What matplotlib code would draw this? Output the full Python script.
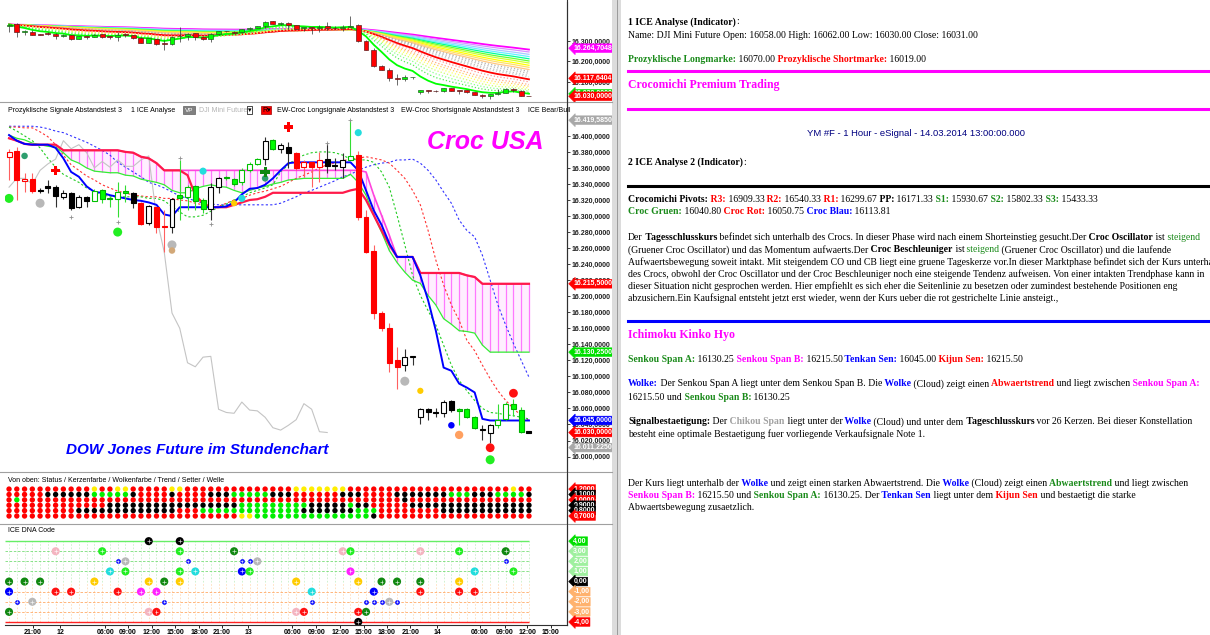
import numpy as np
import pandas as pd
import matplotlib
matplotlib.use('Agg')
import matplotlib.pyplot as plt
from matplotlib.patches import Rectangle
from matplotlib.lines import Line2D

W, H = 1210, 635
SANS = 'Liberation Sans'
SERIF = 'Liberation Serif'
plt.rcParams['font.family'] = [SANS, 'DejaVu Sans']

# hourly bars of the DJI Mini Future (YM #F)
opens = [16374, 16381, 16344, 16346, 16333, 16337, 16336, 16324, 16329, 16311,
         16324, 16319, 16332, 16322, 16321, 16331, 16329, 16316, 16291, 16311,
         16287, 16286, 16323, 16324, 16337, 16320, 16309, 16336, 16348, 16346,
         16342, 16357, 16365, 16371, 16395, 16384, 16386, 16379, 16361, 16368,
         16361, 16371, 16363, 16361, 16370, 16376, 16299, 16256, 16179, 16160,
         16120, 16114, 16124, 16049, 16059, 16056, 16054, 16069, 16058, 16059,
         16049, 16035, 16030, 16039, 16047, 16066, 16058, 16031]
highs = [16384, 16386, 16354, 16354, 16335, 16345, 16339, 16332, 16330, 16326,
         16325, 16334, 16334, 16325, 16342, 16339, 16330, 16317, 16314, 16311,
         16307, 16322, 16370, 16339, 16339, 16322, 16341, 16349, 16350, 16348,
         16360, 16367, 16372, 16399, 16396, 16391, 16392, 16380, 16370, 16368,
         16380, 16391, 16372, 16379, 16420, 16381, 16307, 16264, 16181, 16166,
         16137, 16134, 16125, 16061, 16061, 16060, 16070, 16070, 16060, 16060,
         16050, 16039, 16041, 16065, 16068, 16072, 16062, 16032]
lows = [16345, 16320, 16330, 16329, 16329, 16329, 16311, 16321, 16307, 16310,
        16311, 16319, 16316, 16311, 16299, 16317, 16310, 16289, 16289, 16279,
        16255, 16279, 16295, 16307, 16307, 16304, 16295, 16329, 16345, 16338,
        16339, 16355, 16364, 16364, 16382, 16379, 16360, 16358, 16349, 16336,
        16342, 16354, 16357, 16347, 16370, 16295, 16254, 16172, 16157, 16105,
        16084, 16107, 16114, 16041, 16046, 16049, 16049, 16056, 16039, 16048,
        16035, 16021, 16017, 16036, 16045, 16051, 16030, 16029]
closes = [16380, 16345, 16346, 16331, 16331, 16335, 16325, 16329, 16310, 16324,
          16319, 16331, 16321, 16321, 16330, 16329, 16316, 16290, 16312, 16286,
          16286, 16321, 16326, 16336, 16319, 16309, 16336, 16347, 16347, 16340,
          16357, 16365, 16371, 16394, 16384, 16389, 16379, 16360, 16368, 16361,
          16370, 16362, 16362, 16370, 16375, 16299, 16255, 16179, 16160, 16117,
          16112, 16124, 16125, 16059, 16055, 16054, 16068, 16058, 16057, 16049,
          16036, 16033, 16039, 16046, 16066, 16059, 16031, 16030]
# candle colour state: R/G/K filled, r/g/W hollow
candle_kind = "rRrRKKKWKWK" "gGGgGK" "RWRRW" "GgGGWWGG" "gggWGWK" "RrRrKKWg" "RRRRRR" "WWWKKWK" "GGGKWggGGK"

# ichimoku lines per bar
tenkan = [16401, 16394, 16390, 16389, 16389, 16389, 16385, 16372, 16355, 16349,
          16337, 16330, 16329, 16326, 16324, 16322, 16320, 16319, 16317, 16314,
          16302, 16300, 16311, 16311, 16311, 16311, 16311, 16311, 16312, 16317,
          16327, 16334, 16335, 16339, 16347, 16357, 16366, 16367, 16367, 16367,
          16367, 16367, 16367, 16367, 16367, 16357, 16332, 16307, 16289, 16266,
          16249, 16249, 16249, 16226, 16195, 16157, 16111, 16107, 16091, 16086,
          16080, 16047, 16045, 16045, 16045, 16045, 16045, 16045]
kijun = [16397, 16394, 16390, 16389, 16389, 16389, 16389, 16382, 16382, 16382,
         16382, 16382, 16382, 16382, 16382, 16380, 16379, 16374, 16372, 16366,
         16357, 16357, 16357, 16351, 16326, 16316, 16311, 16311, 16311, 16314,
         16317, 16320, 16321, 16324, 16329, 16329, 16329, 16329, 16329, 16329,
         16329, 16329, 16329, 16329, 16332, 16334, 16320, 16301, 16282, 16264,
         16249, 16249, 16249, 16229, 16229, 16229, 16229, 16229, 16229, 16226,
         16224, 16215.5, 16215.5, 16215.5, 16215.5, 16215.5, 16215.5, 16215.5]
senkou_a = [16401, 16397, 16395, 16391, 16389, 16387, 16386, 16379, 16370, 16366,
            16360, 16356, 16355, 16354, 16354, 16351, 16350, 16346, 16344, 16342,
            16339, 16332, 16329, 16329, 16334, 16337, 16339, 16337, 16336, 16332,
            16329, 16332, 16335, 16337, 16340, 16342, 16345, 16346, 16347, 16347,
            16347, 16347, 16347, 16347, 16352, 16342, 16326, 16301, 16280, 16257,
            16242, 16230, 16220, 16216, 16201, 16189, 16172, 16165, 16157, 16156,
            16154, 16139, 16130.25, 16130.25, 16130.25, 16130.25, 16130.25, 16130.25]
senkou_b = [16397, 16394, 16390, 16389, 16389, 16389, 16389, 16382, 16382, 16382,
            16382, 16382, 16382, 16382, 16382, 16380, 16379, 16374, 16372, 16366,
            16357, 16357, 16357, 16357, 16357, 16357, 16357, 16357, 16357, 16357,
            16357, 16357, 16357, 16357, 16357, 16357, 16357, 16357, 16357, 16357,
            16357, 16357, 16357, 16357, 16357, 16357, 16355, 16326, 16301, 16276,
            16249, 16249, 16249, 16229, 16229, 16229, 16229, 16229, 16229, 16226,
            16224, 16215.5, 16215.5, 16215.5, 16215.5, 16215.5, 16215.5, 16215.5]
# croc dotted lines
croc_blue = [16412, 16412, 16412, 16412, 16411, 16409, 16406, 16404, 16400, 16396,
             16392, 16387, 16382, 16376, 16367, 16361, 16355, 16349, 16342, 16339,
             16335, 16330, 16325, 16322, 16319, 16316, 16315, 16314, 16314, 16314,
             16314, 16314, 16314, 16314, 16314, 16316, 16320, 16324, 16329, 16332,
             16336, 16340, 16344, 16349, 16352, 16357, 16361, 16364, 16366, 16367,
             16370, 16370, 16371, 16366, 16357, 16345, 16330, 16316, 16295, 16282,
             16274, 16251, 16220, 16189, 16164, 16141, 16120, 16099]
croc_red = [16411, 16411, 16410, 16410, 16405, 16399, 16389, 16376, 16364, 16357,
            16350, 16345, 16339, 16335, 16331, 16329, 16326, 16325, 16324, 16324,
            16322, 16322, 16320, 16319, 16316, 16314, 16311, 16312, 16316, 16320,
            16322, 16326, 16329, 16331, 16334, 16337, 16342, 16347, 16351, 16355,
            16360, 16364, 16366, 16369, 16371, 16372, 16374, 16372, 16370, 16366,
            16357, 16347, 16332, 16314, 16282, 16245, 16214, 16189, 16170, 16145,
            16132, 16114, 16097, 16082, 16070, 16060, 16051, 16045]
croc_green = [16411, 16406, 16400, 16394, 16385, 16372, 16361, 16352, 16347, 16342,
              16335, 16331, 16327, 16324, 16324, 16324, 16324, 16324, 16322, 16322,
              16319, 16312, 16305, 16299, 16299, 16301, 16306, 16311, 16315, 16320,
              16324, 16329, 16332, 16335, 16339, 16355, 16364, 16372, 16376, 16379,
              16380, 16380, 16379, 16376, 16371, 16370, 16370, 16367, 16355, 16336,
              16301, 16264, 16226, 16201, 16182, 16164, 16139, 16114, 16095, 16082,
              16070, 16060, 16055, 16054, 16052, 16051, 16049, 16047]

# signals in the main panel
plus_bar = [6, 36, 33]
plus_price = [16357, 16411, 16355]
plus_kind = ['X', 'X', 'D']
small_plus_bar = [8, 14, 22, 26, 41, 44]
small_plus_price = [16299, 16292, 16372, 16290, 16391, 16420]
dot_bar = [0, 14, 2, 33, 4, 21, 51, 21, 58, 25, 30, 45, 29, 53, 57, 65, 62, 62]
dot_price = [16322, 16280, 16375, 16347, 16316, 16264, 16094, 16257, 16027,
             16356, 16322, 16404, 16316, 16082, 16039, 16079, 16011, 15996]
dot_kind = ['L', 'L', 'T', 'T', 'S', 'S', 'S', 'N', 'O', 'C', 'C', 'C', 'Y', 'Y', 'B', 'R', 'R', 'L']

# status rows (1.2 ... 0.7)
status_levels = [1.2, 1.1, 1.0, 0.9, 0.8, 0.7]
status_rows = [
    "RRRRRRRRRRR" "Y" "RR" "YY" "RRRRR" "YY" "RRRRRRRRRRRRRR" "YYYYYYY" "RRRRRRRRRRRRRRRRRRRRR" "Y" "RR",
    "RRRRR" "KKKKKK" "GGGGG" "K" "RRRR" "K" "RRRR" "KKK" "GGGGG" "KKK" "RRRRRR" "KKK" "RRRR" "KKKKKKK" "GGG" "KKK" "GGGG" "K",
    "RG" "RRRRRRRRRRRRRRRRRRRRRRRRRRRRRRRRRRRRRRRRRRRRRRRRR" "K" "RRRRRRRRRRRRRRRR",
    "RRRRRRRRRRRRR" "KKKKKKKKKKKKKKKKK" "GGGGGGGGG" "KKKKK" "G" "KK" "RRRRR" "KKKKKKKKKKKKKKKK",
    "RRRRRRRRR" "KKKKKKKKKKKKK" "RRR" "GGGGGGGGGGGGG" "KKKKKKK" "GGG" "RRRRRRRR" "KKKKKKKKKKKK",
    "RRRRRRRRRRRRRRRRRRRRRRRRRRRRRR" "YY" "GGGGGGGGGGGGGGG" "K" "RRRRRRRRRRRRRRRRRRRR",
]
status_tags = ['1,2000', '1,1000', '1,0000', '0,9000', '0,8000', '0,7000']
status_tag_colors = ['#ff0000', '#000000', '#ff0000', '#000000', '#000000', '#ff0000']

# ICE DNA code markers
dna_bar = [18, 22,
           6, 12, 22, 29, 43, 44, 53, 58, 64,
           14, 15, 23, 30, 31, 32, 64,
           13, 15, 22, 24, 30, 31, 44, 60, 65,
           0, 2, 4, 11, 18, 20, 22, 37, 45, 48, 50, 53, 58,
           0, 6, 8, 14, 17, 19, 39, 47, 53, 58, 60,
           1, 3, 20, 39, 46, 47, 48, 49, 50,
           0, 18, 19, 37, 38, 45, 46,
           45]
dna_level = [4, 4,
             3, 3, 3, 3, 3, 3, 3, 3, 3,
             2, 2, 2, 2, 2, 2, 2,
             1, 1, 1, 1, 1, 1, 1, 1, 1,
             0, 0, 0, 0, 0, 0, 0, 0, 0, 0, 0, 0, 0,
             -1, -1, -1, -1, -1, -1, -1, -1, -1, -1, -1,
             -2, -2, -2, -2, -2, -2, -2, -2, -2,
             -3, -3, -3, -3, -3, -3, -3,
             -4]
dna_kind = ['K', 'K',
            'P', 'L', 'L', 'D', 'P', 'L', 'P', 'L', 'D',
            'b', 'S', 'b', 'b', 'b', 'S', 'b',
            'C', 'L', 'L', 'C', 'B', 'L', 'M', 'C', 'L',
            'D', 'D', 'D', 'Y', 'Y', 'D', 'Y', 'Y', 'Y', 'D', 'D', 'D', 'Y',
            'B', 'R', 'R', 'R', 'M', 'M', 'C', 'B', 'R', 'R', 'R',
            'b', 'S', 'b', 'b', 'b', 'b', 'b', 'S', 'b',
            'D', 'P', 'R', 'P', 'R', 'R', 'D',
            'K']
dna_tags = ['4,00', '3,00', '2,00', '1,00', '0,00', '-1,00', '-2,00', '-3,00', '-4,00']
dna_tag_levels = [4, 3, 2, 1, 0, -1, -2, -3, -4]
dna_tag_colors = ['#00e000', '#9ef09e', '#9ef09e', '#9ef09e', '#000000',
                  '#ffb26e', '#ffb26e', '#ffb26e', '#ff0000']

# time axis
tick_pos = [3.1, 6.6, 12.4, 15.3, 18.4, 21.4, 24.5, 27.4, 30.8, 36.5,
            39.6, 42.7, 45.7, 48.7, 51.7, 55.2, 60.7, 63.9, 66.8, 69.8]
tick_labels = ['21:00', '12', '06:00', '09:00', '12:00', '15:00', '18:00', '21:00', '13', '06:00',
               '09:00', '12:00', '15:00', '18:00', '21:00', '14', '06:00', '09:00', '12:00', '15:00']

# right side price tags
top_tag_values = [16264.7048, 16117.6404, 16042.0, 16030.0]
top_tag_texts = ['16.264,7048', '16.117,6404', '16.030,0000', '16.030,0000']
top_tag_colors = ['#ff00ff', '#ff0000', '#00e000', '#ff0000']
main_tag_values = [16419.585, 16215.5, 16130.25, 16045.0, 16030.0, 16011.225]
main_tag_colors = ['#a8a8a8', '#ff0000', '#00e000', '#0000ff', '#ff0000', '#a8a8a8']

COLORS = {'K': '#000000', 'P': '#f4b4c0', 'L': '#22ee22', 'D': '#118811', 'b': '#1010ff',
          'S': '#b8b8b8', 'C': '#22dddd', 'B': '#0000ff', 'M': '#ff22ff', 'Y': '#ffcc00',
          'R': '#ff1111', 'G': '#00ee00', 'T': '#2e9e6e', 'N': '#d2a878', 'O': '#ffa060',
          'X': '#ff0000'}


def px(x):
    return x / W


def py(y):
    return 1 - y / H


def de_num(v, dec):
    s = f"{v:,.{dec}f}"
    return s.replace(',', '#').replace('.', ',').replace('#', '.')


fig = plt.figure(figsize=(W / 100, H / 100), dpi=100)
fig.patch.set_facecolor('white')
X_LO, X_HI = -0.52, 71.9
bars = np.arange(len(closes))


def panel(top, bottom, left=5, right=567):
    ax = fig.add_axes([px(left), py(bottom), (right - left) / W, (bottom - top) / H])
    ax.set_facecolor('white')
    ax.spines['left'].set_visible(False)
    ax.spines['bottom'].set_visible(False)
    ax.spines['top'].set_visible(False)
    ax.spines['right'].set_color('#303030')
    ax.spines['right'].set_linewidth(0.8)
    ax.yaxis.tick_right()
    ax.tick_params(axis='y', length=2, width=0.6, pad=1.5, colors='#202020')
    ax.tick_params(axis='x', bottom=False, labelbottom=False)
    ax.set_xlim(X_LO, X_HI)
    return ax


def tag(ax, val, text, color):
    ax.annotate(text, xy=(1, val), xycoords=ax.get_yaxis_transform(), xytext=(4.5, 0),
                textcoords='offset points', ha='left', va='center', fontsize=5,
                fontweight='bold', color='white', annotation_clip=False, zorder=30,
                bbox=dict(boxstyle='larrow,pad=0.12', fc=color, ec=color, lw=0.4))


def draw_candles(ax, styles, width, lw, min_h):
    o = np.array(opens, float)
    c = np.array(closes, float)
    lo = np.minimum(o, c)
    hi = np.maximum(o, c)
    ax.vlines(bars, lows, highs, colors=[s[2] for s in styles], lw=lw, zorder=5)
    ax.bar(bars, np.maximum(hi - lo, min_h), bottom=lo, width=width,
           color=[s[0] for s in styles], edgecolor=[s[1] for s in styles], lw=lw, zorder=6)


# ---------------- top panel: candles + ribbon ----------------
ax_top = panel(2, 101)
ax_top.set_ylim(16007, 16490)
ribbon = [(100, '#ff00ff', '-'), (88, '#d890ff', '-'), (78, '#a8c8ff', '-'), (70, '#66eeff', '-'),
          (63, '#00ff99', '-'), (57, '#66ff33', '-'), (52, '#ccff33', '-'), (47, '#ffff00', '-'),
          (43, '#ffe066', '-'), (39, '#ffc880', '-'),
          (36, '#b0b0b0', ':'), (33, '#b8b8b8', ':'), (30, '#c0c0c0', ':'), (28, '#c8c8c8', ':'),
          (25, '#ff0000', '-'),
          (22, '#ff9090', ':'), (19, '#ffaa80', ':'), (17, '#ffd060', ':'), (15, '#ffff60', ':'),
          (13, '#ccff66', ':'), (11, '#88ff88', ':'), (9, '#55ee55', ':'),
          (6, '#00ff00', '-')]
close_s = pd.Series(closes, dtype=float)
for span, col, ls in ribbon:
    lw = 1.3 if span in (25, 6, 100) else 0.9
    ax_top.plot(bars, close_s.ewm(span=span, adjust=False).mean(), color=col, ls=ls, lw=lw, zorder=2)
top_styles = [('#00ff00', '#206020', '#303030') if c >= o else ('#ff0000', '#602020', '#303030')
              for o, c in zip(opens, closes)]
draw_candles(ax_top, top_styles, 0.64, 0.5, 2.5)
top_ticks = [16100, 16200, 16300]
ax_top.set_yticks(top_ticks, [de_num(t, 4) for t in top_ticks], fontsize=5, fontweight='bold')
for v, txt, col in zip(top_tag_values, top_tag_texts, top_tag_colors):
    tag(ax_top, v, txt, col)

# ---------------- main panel ----------------
ax = panel(103, 471)
ax.set_ylim(15982, 16441)
a = np.array(senkou_a)
b = np.array(senkou_b)
cloud = b > a
ax.fill_between(bars, a, b, where=cloud, color='#ffeeff', lw=0, zorder=0)
ax.vlines(bars[cloud], a[cloud], b[cloud], colors='#ff77ff', lw=0.9, zorder=1)
ax.plot(bars, croc_blue, color='#3333ff', lw=0.8, ls=(0, (2, 2)), zorder=2)
ax.plot(bars, croc_red, color='#ff3333', lw=0.8, ls=(0, (2, 2)), zorder=2)
ax.plot(bars, croc_green, color='#22cc22', lw=0.8, ls=(0, (2, 2)), zorder=2)
shift = 26
ax.plot(bars[:len(closes) - shift], closes[shift:], color='#c4c4c4', lw=0.8, zorder=2)
ax.plot(bars, senkou_a, color='#33ee33', lw=0.9, zorder=3)
ax.plot(bars, senkou_b, color='#ff44dd', lw=1.2, zorder=3)
ax.plot(bars, kijun, color='#ff1a4a', lw=1.6, zorder=3)
ax.plot(bars, tenkan, color='#0000ff', lw=1.4, zorder=4)
main_styles = {'R': ('#ff0000', '#ff0000', '#ff6060'), 'G': ('#00ff00', '#00b000', '#33dd33'),
               'K': ('#000000', '#000000', '#303030'), 'W': ('#ffffff', '#000000', '#303030'),
               'g': ('#ffffff', '#00c000', '#33dd33'), 'r': ('#ffffff', '#ff0000', '#ff6060')}
draw_candles(ax, [main_styles[k] for k in candle_kind], 0.64, 0.8, 2.0)
dot_size = {'L': 42, 'S': 42, 'T': 22, 'N': 22, 'O': 36, 'C': 26, 'Y': 20, 'B': 22, 'R': 40}
ax.scatter(dot_bar, dot_price, s=[dot_size[k] for k in dot_kind], c=[COLORS[k] for k in dot_kind],
           lw=0, zorder=8)
ax.scatter(plus_bar, plus_price, marker='P', s=45, c=[COLORS[k] for k in plus_kind], lw=0, zorder=8)
ax.scatter(small_plus_bar, small_plus_price, marker='+', s=8, c='#909090', lw=0.6, zorder=8)
main_ticks = list(range(16000, 16401, 20))
ax.set_yticks(main_ticks, [de_num(t, 4) for t in main_ticks], fontsize=5, fontweight='bold')
for v, col in zip(main_tag_values, main_tag_colors):
    tag(ax, v, de_num(v, 4), col)
fig.text(px(485), py(142), 'Croc USA', color='#ff00ff', fontsize=18, fontweight='bold',
         fontstyle='italic', ha='center', va='center', family=SANS)
fig.text(px(197), py(450), 'DOW Jones Future im Stundenchart', color='#0000ff', fontsize=11,
         fontweight='bold', fontstyle='italic', ha='center', va='center', family=SANS)

# header of the main panel
hy = py(110)
fig.text(px(8), hy, 'Prozyklische Signale Abstandstest 3', fontsize=5, va='center')
fig.text(px(131), hy, '1 ICE Analyse', fontsize=5, va='center')
fig.text(px(185), hy, 'VP', fontsize=4.6, va='center', color='white',
         bbox=dict(boxstyle='square,pad=0.25', fc='#808080', ec='#606060', lw=0.5))
fig.text(px(199), hy, 'DJI Mini Future', fontsize=5, va='center', color='#b4b4b4')
fig.text(px(248), hy, '\u25be', fontsize=5, va='center', family='DejaVu Sans',
         bbox=dict(boxstyle='square,pad=0.1', fc='white', ec='black', lw=0.5))
fig.text(px(262), hy, 'R\u25be', fontsize=5, va='center', family=[SANS, 'DejaVu Sans'],
         bbox=dict(boxstyle='square,pad=0.1', fc='#ff0000', ec='#a00000', lw=0.5))
fig.text(px(277), hy, 'EW-Croc Longsignale Abstandstest 3', fontsize=5, va='center')
fig.text(px(401), hy, 'EW-Croc Shortsignale Abstandstest 3', fontsize=5, va='center')
fig.text(px(528), hy, 'ICE Bear/Bull', fontsize=5, va='center')

# ---------------- status dots panel ----------------
ax_st = panel(474, 523)
ax_st.set_ylim(0.57, 1.48)
st_cols = {'R': '#ff0000', 'K': '#000000', 'Y': '#ffee00', 'G': '#00ee00'}
for lev, row in zip(status_levels, status_rows):
    n = min(len(row), len(bars))
    ax_st.scatter(bars[:n], [lev] * n, s=15, c=[st_cols[ch] for ch in row[:n]], lw=0, zorder=3)
ax_st.set_yticks([])
for lev, txt, col in zip(status_levels, status_tags, status_tag_colors):
    tag(ax_st, lev, txt, col)
fig.text(px(8), py(480), 'Von oben: Status / Kerzenfarbe / Wolkenfarbe / Trend / Setter / Welle',
         fontsize=5, va='center')

# ---------------- ICE DNA panel ----------------
ax_d = panel(526, 625)
ax_d.set_ylim(-4.3, 5.5)
last = len(bars) - 1
ax_d.vlines(bars, 0, 4, colors='#c8f0c8', lw=0.6, ls=(0, (2, 2)), zorder=0)
ax_d.vlines(bars, -4, 0, colors='#ffdcb8', lw=0.6, ls=(0, (2, 2)), zorder=0)
ax_d.hlines([1, 2, 3], -0.5, last, colors='#77dd77', lw=0.6, ls=(0, (3, 2)), zorder=1)
ax_d.hlines([-1, -2, -3], -0.5, last, colors='#ffaa66', lw=0.6, ls=(0, (3, 2)), zorder=1)
ax_d.hlines([4], -0.5, last, colors='#66ee66', lw=1.0, zorder=1)
ax_d.hlines([-4], -0.5, last, colors='#ff2222', lw=1.0, zorder=1)
db = np.array(dna_bar)
dl = np.array(dna_level)
dk = np.array(dna_kind)
big = dk != 'b'
ax_d.scatter(db[big], dl[big], s=34, c=[COLORS[k] for k in dk[big]], lw=0, zorder=4)
ax_d.scatter(db[~big], dl[~big], s=12, c=COLORS['b'], lw=0, zorder=4)
ax_d.scatter(db, dl, marker='+', s=np.where(big, 8, 4), c='white', lw=0.5, alpha=0.8, zorder=5)
ax_d.set_yticks([])
for lev, txt, col in zip(dna_tag_levels, dna_tags, dna_tag_colors):
    tag(ax_d, lev, txt, col)
ax_d.spines['bottom'].set_visible(True)
ax_d.spines['bottom'].set_color('#303030')
ax_d.tick_params(axis='x', bottom=True, labelbottom=True, length=2, width=0.6, pad=1)
ax_d.set_xticks(tick_pos, tick_labels, fontsize=5, fontweight='bold')
fig.text(px(8), py(531), 'ICE DNA Code', fontsize=5, va='center')

# panel separators and frame
for yy in (102, 472, 524):
    fig.add_artist(Line2D([0, px(612)], [py(yy), py(yy)], color='#a0a0a0', lw=0.8))
fig.add_artist(Line2D([px(567), px(567)], [py(625), 1], color='#303030', lw=0.8))
fig.add_artist(Rectangle((px(612), 0), px(9), 1, transform=fig.transFigure, fc='#dcdcdc', ec='none'))
fig.add_artist(Line2D([px(617), px(617)], [0, 1], color='#909090', lw=0.6))

# ---------------- text panel ----------------
renderer = fig.canvas.get_renderer()
BLK, GRN, RED, MAG, BLU, GRY = '#000000', '#1a8a1a', '#ff0000', '#ff00ff', '#0000ff', '#a0a0a0'
N, B = 'normal', 'bold'
TS = 7


def rich_line(x, y, parts, size=TS):
    carry = ''
    for s, col, w in parts:
        s = carry + s
        stripped = s.rstrip(' ')
        carry = s[len(stripped):]
        t = fig.text(px(x), py(y), stripped, color=col, fontweight=w, fontsize=size,
                     family=SERIF, va='center', ha='left')
        x += t.get_window_extent(renderer=renderer).width


def rule(y, color, lw=2.2):
    fig.add_artist(Line2D([px(628), 1], [py(y), py(y)], color=color, lw=lw))


rich_line(628, 22, [('1 ICE Analyse (Indicator)', BLK, B), (':', BLK, N)])
rich_line(628, 35, [('Name: DJI Mini Future Open: 16058.00 High: 16062.00 Low: 16030.00 Close: 16031.00', BLK, N)])
rich_line(628, 59, [('Prozyklische Longmarke:', GRN, B), (' 16070.00 ', BLK, N),
                    ('Prozyklische Shortmarke:', RED, B), (' 16019.00', BLK, N)])
rule(71, MAG)
rich_line(628, 85, [('Crocomichi Premium Trading', MAG, B)], size=8.5)
rule(109, MAG)
fig.text(px(916), py(133), 'YM #F - 1 Hour - eSignal - 14.03.2014 13:00:00.000', color='#000080',
         fontsize=6.8, ha='center', va='center', family=SANS)
rich_line(628, 162, [('2 ICE Analyse 2 (Indicator)', BLK, B), (':', BLK, N)])
rule(186, BLK)
rich_line(628, 199, [('Crocomichi Pivots: ', BLK, B), ('R3:', RED, B), (' 16909.33 ', BLK, N),
                     ('R2:', RED, B), (' 16540.33 ', BLK, N), ('R1:', RED, B), (' 16299.67 ', BLK, N),
                     ('PP:', BLK, B), (' 16171.33 ', BLK, N), ('S1:', GRN, B), (' 15930.67 ', BLK, N),
                     ('S2:', GRN, B), (' 15802.33 ', BLK, N), ('S3:', GRN, B), (' 15433.33', BLK, N)])
rich_line(628, 212, [('Croc Gruen:', GRN, B), (' 16040.80 ', BLK, N), ('Croc Rot:', RED, B),
                     (' 16050.75 ', BLK, N), ('Croc Blau:', BLU, B), (' 16113.81', BLK, N)])
para = [
    [('Der ', BLK, N), ('Tagesschlusskurs', BLK, B),
     (' befindet sich unterhalb des Crocs. In dieser Phase wird nach einem Shorteinstieg gesucht.Der ', BLK, N),
     ('Croc Oscillator', BLK, B), (' ist ', BLK, N), ('steigend', GRN, N)],
    [('(Gruener Croc Oscillator) und das Momentum aufwaerts.Der ', BLK, N), ('Croc Beschleuniger', BLK, B),
     (' ist ', BLK, N), ('steigend', GRN, N), (' (Gruener Croc Oscillator) und die laufende', BLK, N)],
    [('Aufwaertsbewegung soweit intakt. Mit steigendem CO und CB liegt eine gruene Tageskerze vor.'
      'In dieser Marktphase befindet sich der Kurs unterhal', BLK, N)],
    [('des Crocs, obwohl der Croc Oscillator und der Croc Beschleuniger noch eine steigende Tendenz '
      'aufweisen. Von einer intakten Trendphase kann in', BLK, N)],
    [('dieser Situation nicht gesprochen werden. Hier empfiehlt es sich eher die Seitenlinie zu besetzen '
      'oder zumindest bestehende Positionen eng', BLK, N)],
    [('abzusichern.Ein Kaufsignal entsteht jetzt erst wieder, wenn der Kurs ueber die rot gestrichelte '
      'Linie ansteigt.,', BLK, N)],
]
for yy, parts in zip([237, 250, 262, 274, 286, 298], para):
    rich_line(628, yy, parts)
rule(321, BLU)
rich_line(628, 335, [('Ichimoku Kinko Hyo', MAG, B)], size=8.5)
rich_line(628, 360, [('Senkou Span A:', GRN, B), (' 16130.25 ', BLK, N), ('Senkou Span B:', MAG, B),
                     (' 16215.50 ', BLK, N), ('Tenkan Sen:', BLU, B), (' 16045.00 ', BLK, N),
                     ('Kijun Sen:', RED, B), (' 16215.50', BLK, N)])
rich_line(628, 384, [('Wolke:', BLU, B), (' Der Senkou Span A liegt unter dem Senkou Span B. Die ', BLK, N),
                     ('Wolke', BLU, B), (' (Cloud) zeigt einen ', BLK, N), ('Abwaertstrend', RED, B),
                     (' und liegt zwischen ', BLK, N), ('Senkou Span A:', MAG, B)])
rich_line(628, 397, [('16215.50 und ', BLK, N), ('Senkou Span B:', GRN, B), (' 16130.25', BLK, N)])
rich_line(628, 422, [('Signalbestaetigung:', BLK, B), (' Der ', BLK, N), ('Chikou Span', GRY, B),
                     (' liegt unter der ', BLK, N), ('Wolke', BLU, B), (' (Cloud) und unter dem ', BLK, N),
                     ('Tageschlusskurs', BLK, B), (' vor 26 Kerzen. Bei dieser Konstellation', BLK, N)])
rich_line(628, 434, [('besteht eine optimale Bestaetigung fuer vorliegende Verkaufsignale Note 1.', BLK, N)])
rich_line(628, 483, [('Der Kurs liegt unterhalb der ', BLK, N), ('Wolke', BLU, B),
                     (' und zeigt einen starken Abwaertstrend. Die ', BLK, N), ('Wolke', BLU, B),
                     (' (Cloud) zeigt einen ', BLK, N), ('Abwaertstrend', GRN, B), (' und liegt zwischen', BLK, N)])
rich_line(628, 495, [('Senkou Span B:', MAG, B), (' 16215.50 und ', BLK, N), ('Senkou Span A:', GRN, B),
                     (' 16130.25. Der ', BLK, N), ('Tenkan Sen', BLU, B), (' liegt unter dem ', BLK, N),
                     ('Kijun Sen', RED, B), (' und bestaetigt die starke', BLK, N)])
rich_line(628, 507, [('Abwaertsbewegung zusaetzlich.', BLK, N)])

fig.savefig('out.png', dpi=100)
